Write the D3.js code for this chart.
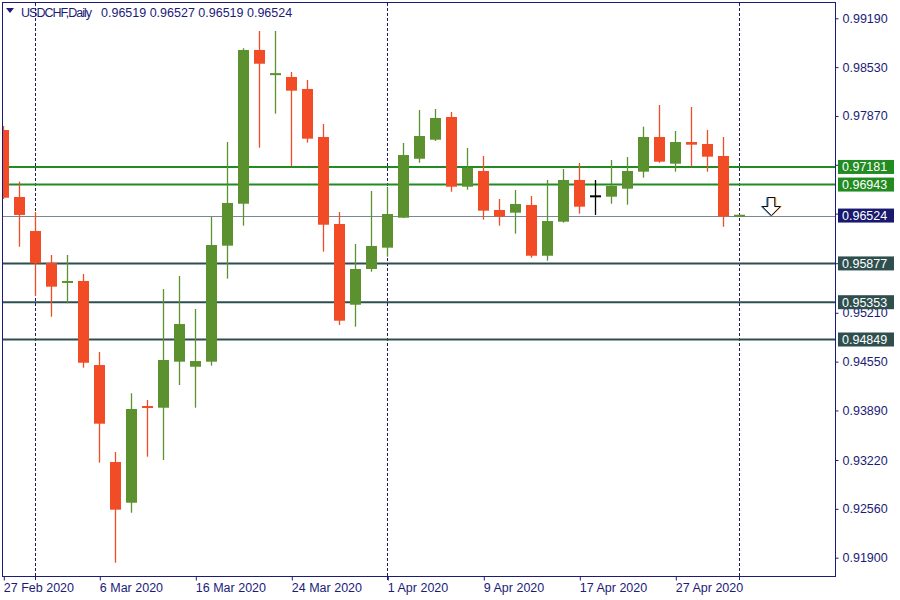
<!DOCTYPE html>
<html>
<head>
<meta charset="utf-8">
<script src="https://cdn.jsdelivr.net/npm/d3@7/dist/d3.min.js"></script>
<style>
  html, body { margin: 0; padding: 0; background: #ffffff; }
  svg { display: block; font-family: "Liberation Sans", Arial, sans-serif; }
</style>
</head>
<body>
<svg id="chart" width="900" height="600"></svg>
<script>
// ---------- DATA ----------
const symbol = "USDCHF,Daily";
const quote = [0.96519, 0.96527, 0.96519, 0.96524];

const dates = [
  "2020-02-27","2020-02-28",
  "2020-03-02","2020-03-03","2020-03-04","2020-03-05","2020-03-06",
  "2020-03-09","2020-03-10","2020-03-11","2020-03-12","2020-03-13",
  "2020-03-16","2020-03-17","2020-03-18","2020-03-19","2020-03-20",
  "2020-03-23","2020-03-24","2020-03-25","2020-03-26","2020-03-27",
  "2020-03-30","2020-03-31",
  "2020-04-01","2020-04-02","2020-04-03",
  "2020-04-06","2020-04-07","2020-04-08","2020-04-09","2020-04-10",
  "2020-04-13","2020-04-14","2020-04-15","2020-04-16","2020-04-17",
  "2020-04-20","2020-04-21","2020-04-22","2020-04-23","2020-04-24",
  "2020-04-27","2020-04-28","2020-04-29","2020-04-30",
  "2020-05-01"
];
const open = [0.97680,0.96775,0.96315,0.95883,0.95613,0.95640,0.94504,0.93193,0.92643,0.93943,0.93927,0.94549,0.94481,0.94549,0.96117,0.96684,0.98762,0.98424,0.98397,0.98235,0.97586,0.96410,0.95319,0.95802,0.96090,0.96495,0.97292,0.97549,0.97856,0.96914,0.97126,0.96599,0.96563,0.96667,0.95981,0.96441,0.97005,0.96784,0.96779,0.96887,0.97117,0.97586,0.97225,0.97518,0.97491,0.97329,0.96519];
const high = [0.97734,0.96982,0.96572,0.95991,0.95991,0.95734,0.94680,0.93328,0.94122,0.94031,0.95531,0.95707,0.95261,0.96505,0.97518,0.98785,0.99018,0.99018,0.98464,0.98356,0.97761,0.96572,0.96140,0.96856,0.96910,0.97505,0.97951,0.97964,0.97924,0.97437,0.97329,0.96748,0.96869,0.96788,0.97005,0.97153,0.97234,0.97005,0.97275,0.97315,0.97725,0.98018,0.97667,0.97991,0.97680,0.97586,0.96527];
const low = [0.96748,0.96103,0.95437,0.95157,0.95338,0.94468,0.93184,0.91832,0.92508,0.93265,0.93220,0.94234,0.93927,0.94495,0.95671,0.96387,0.97441,0.97901,0.97194,0.97509,0.96036,0.95045,0.95022,0.95765,0.95968,0.96491,0.97238,0.97532,0.96846,0.96873,0.96468,0.96387,0.96279,0.95954,0.95914,0.96428,0.96549,0.96532,0.96684,0.96671,0.97036,0.97238,0.97117,0.97184,0.97117,0.96373,0.96519];
const close = [0.96765,0.96532,0.95879,0.95563,0.95640,0.94535,0.93711,0.92549,0.93910,0.93930,0.94572,0.95058,0.94558,0.96126,0.96694,0.98762,0.98576,0.98447,0.98212,0.97563,0.96400,0.95103,0.95802,0.96113,0.96545,0.97342,0.97599,0.97843,0.96914,0.97171,0.96590,0.96509,0.96680,0.95981,0.96450,0.97005,0.96644,0.96784,0.96924,0.97126,0.97586,0.97252,0.97518,0.97482,0.97320,0.96512,0.96524];

const priceTicks = [0.99190,0.98530,0.97870,0.97210,0.96550,0.95880,0.95210,0.94550,0.93890,0.93220,0.92560,0.91900];
const dateLabels = ["2020-02-27","2020-03-06","2020-03-16","2020-03-24","2020-04-01","2020-04-09","2020-04-17","2020-04-27"];
const periodSeparators = ["2020-03-02","2020-04-01","2020-05-01"];

const resistanceLevels = [0.97181, 0.96943];
const supportLevels = [0.95877, 0.95353, 0.94849];
const bidPrice = 0.96524;

// ---------- LAYOUT ----------
const plot = { left: 3, right: 836, top: 3, bottom: 576 };
const C = {
  up: "#5B922F", down: "#F24C27", doji: "#000000",
  frame: "#1B1B78", text: "#1B1B78",
  res: "#228B22", sup: "#2F4F4F", bid: "#7A8794", bidBox: "#191970",
  sep: "#1B1B60"
};

const svg = d3.select("#chart");

const step = 16;
const x = d3.scalePoint().domain(dates).range([3.3, 3.3 + step * (dates.length - 1)]);
const y = d3.scaleLinear().domain([0.99190, 0.91900]).range([18.3, 557.7]);
const bodyW = 11;

svg.append("defs").append("clipPath").attr("id", "clip")
  .append("rect").attr("x", plot.left).attr("y", plot.top)
  .attr("width", plot.right - plot.left).attr("height", plot.bottom - plot.top);

const g = svg.append("g").attr("clip-path", "url(#clip)");

// period separators
g.selectAll("line.sep").data(periodSeparators).join("line")
  .attr("class", "sep")
  .attr("x1", d => Math.round(x(d)) + 0.5).attr("x2", d => Math.round(x(d)) + 0.5)
  .attr("y1", plot.top).attr("y2", plot.bottom)
  .attr("stroke", C.sep).attr("stroke-width", 1).attr("stroke-dasharray", "3,2");

// level lines
g.selectAll("line.res").data(resistanceLevels).join("line")
  .attr("x1", plot.left).attr("x2", plot.right)
  .attr("y1", d => y(d)).attr("y2", d => y(d))
  .attr("stroke", C.res).attr("stroke-width", 2);
g.selectAll("line.sup").data(supportLevels).join("line")
  .attr("x1", plot.left).attr("x2", plot.right)
  .attr("y1", d => y(d)).attr("y2", d => y(d))
  .attr("stroke", C.sup).attr("stroke-width", 2);
g.append("line")
  .attr("x1", plot.left).attr("x2", plot.right)
  .attr("y1", Math.round(y(bidPrice)) + 0.5).attr("y2", Math.round(y(bidPrice)) + 0.5)
  .attr("stroke", C.bid).attr("stroke-width", 1);

// candles
const candles = dates.map((d, i) => ({ d, o: open[i], h: high[i], l: low[i], c: close[i] }));
const colorOf = k => k.c > k.o ? C.up : (k.c < k.o ? C.down : C.doji);

const cg = g.selectAll("g.candle").data(candles).join("g").attr("class", "candle");
cg.append("line")
  .attr("x1", k => Math.round(x(k.d)) + 0.5).attr("x2", k => Math.round(x(k.d)) + 0.5)
  .attr("y1", k => y(k.h)).attr("y2", k => y(k.l))
  .attr("stroke", colorOf).attr("stroke-width", 1.3);
cg.append("rect")
  .attr("x", k => Math.round(x(k.d)) + 0.5 - bodyW / 2)
  .attr("width", bodyW)
  .attr("y", k => {
    const t = y(Math.max(k.o, k.c)), b = y(Math.min(k.o, k.c));
    return b - t < 2 ? (t + b) / 2 - 1 : t;
  })
  .attr("height", k => Math.max(2, y(Math.min(k.o, k.c)) - y(Math.max(k.o, k.c))))
  .attr("fill", colorOf);

// arrow annotation (sell signal) next to the last bar, tip at bid price
const ax = x(dates[dates.length - 1]) + 2 * step, ay = y(bidPrice);
const arrowPath = `M${ax-3.5},${ay-18} L${ax+3.5},${ay-18} L${ax+3.5},${ay-9} L${ax+9},${ay-9} L${ax},${ay} L${ax-9},${ay-9} L${ax-3.5},${ay-9} Z`;
g.append("path").attr("d", arrowPath).attr("transform", "translate(-1,0)")
  .attr("fill", "none").attr("stroke", "#2a7fd4").attr("stroke-width", 1);
g.append("path").attr("d", arrowPath).attr("transform", "translate(1,0)")
  .attr("fill", "none").attr("stroke", "#f0a040").attr("stroke-width", 1);
g.append("path").attr("d", arrowPath)
  .attr("fill", "#ffffff").attr("stroke", "#000000").attr("stroke-width", 1);

// frame
svg.append("rect")
  .attr("x", plot.left - 0.5).attr("y", plot.top - 0.5)
  .attr("width", plot.right - plot.left).attr("height", plot.bottom - plot.top + 1)
  .attr("fill", "none").attr("stroke", C.frame).attr("stroke-width", 1);

// level labels (drawn as boxes on the price axis); tick labels fully covered by a box are not drawn
const allLevels = resistanceLevels.concat(supportLevels, [bidPrice]);
const covered = p => allLevels.some(l => Math.abs(y(l) - y(p)) < 8);

// right price axis
const yAxis = d3.axisRight(y).tickValues(priceTicks)
  .tickFormat(p => covered(p) ? "" : d3.format(".5f")(p))
  .tickSize(3).tickSizeOuter(0).tickPadding(4);
const ya = svg.append("g").attr("transform", `translate(${plot.right - 0.5},0)`).call(yAxis);
ya.select(".domain").remove();
ya.selectAll("line").attr("stroke", C.frame);
ya.selectAll("text").attr("fill", C.text).style("font-size", "12.5px")
  .style("font-family", "'Liberation Sans', Arial, sans-serif");

// bottom date axis
const fmt = d3.timeFormat("%-d %b %Y"), parse = d3.timeParse("%Y-%m-%d");
const xAxis = d3.axisBottom(x).tickValues(dateLabels).tickFormat(d => fmt(parse(d)))
  .tickSize(4).tickSizeOuter(0).tickPadding(3);
const xa = svg.append("g").attr("transform", `translate(0.5,${plot.bottom + 0.5})`).call(xAxis);
xa.select(".domain").remove();
xa.selectAll("line").attr("stroke", C.frame);
xa.selectAll("text").attr("fill", C.text).attr("text-anchor", "start").attr("dx", "-0.5")
  .style("font-size", "12.5px").style("font-family", "'Liberation Sans', Arial, sans-serif");
svg.append("g").selectAll("line").data(periodSeparators.slice()).join("line")
  .attr("x1", d => Math.round(x(d)) + 0.5).attr("x2", d => Math.round(x(d)) + 0.5)
  .attr("y1", plot.bottom).attr("y2", plot.bottom + 4)
  .attr("stroke", C.frame);

function levelLabel(p, fill) {
  const cy = y(p);
  svg.append("rect").attr("x", 838).attr("y", cy - 7).attr("width", 56).attr("height", 14).attr("fill", fill);
  svg.append("text").attr("x", 842).attr("y", cy + 4.5).text(d3.format(".5f")(p))
    .attr("fill", "#ffffff").style("font-size", "12.5px");
}
resistanceLevels.forEach(p => levelLabel(p, C.res));
supportLevels.forEach(p => levelLabel(p, C.sup));
levelLabel(bidPrice, C.bidBox);

// header
svg.append("path").attr("d", "M6,8 L14,8 L10,13 Z").attr("fill", C.text);
svg.append("text").attr("x", 21).attr("y", 17).text(symbol)
  .attr("fill", C.text).style("font-size", "12.5px").attr("textLength", 71);
svg.append("text").attr("x", 101).attr("y", 17).text(quote.map(d3.format(".5f")).join(" "))
  .attr("fill", C.text).style("font-size", "12.5px");
</script>
</body>
</html>
